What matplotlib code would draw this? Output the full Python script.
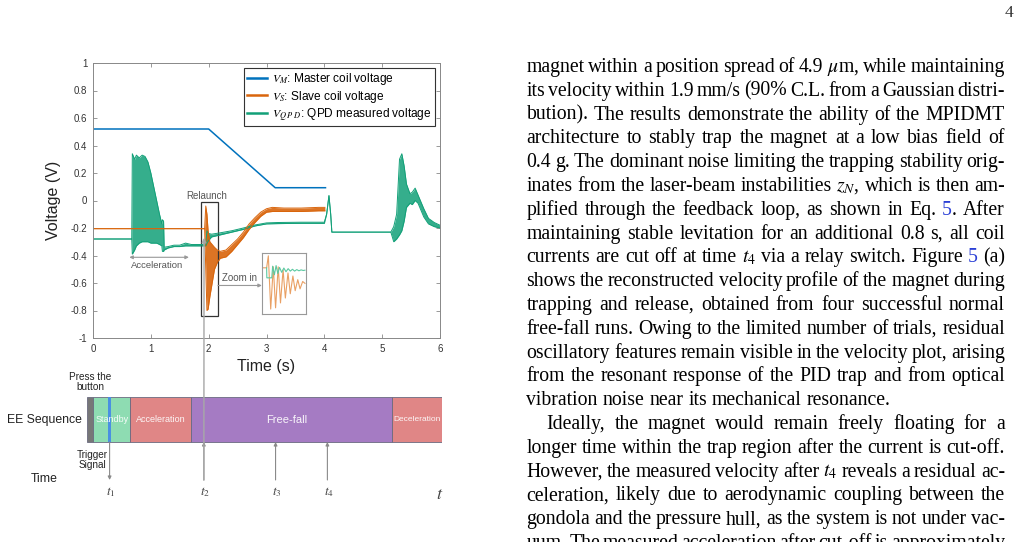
import re
import matplotlib
matplotlib.use("Agg")
import matplotlib.pyplot as plt
from matplotlib.patches import Rectangle, ConnectionPatch

plt.rcParams["font.family"] = ["Liberation Sans", "DejaVu Sans"]
plt.rcParams["mathtext.fontset"] = "stix"

W, H = 1025, 542

# ---- coil / QPD voltages (time in s, volts) ----
vm_t = [0.0, 2.0, 3.15, 4.02]
vm_v = [0.52, 0.52, 0.093, 0.093]

# noisy traces are kept as lower / upper envelope of the trace
vs_t = [0.0, 1.93, 1.95, 1.97, 1.99, 2.02, 2.06, 2.10, 2.15, 2.20, 2.30, 2.40,
        2.50, 2.60, 2.70, 2.80, 2.90, 3.00, 3.10, 3.30, 3.60, 3.90, 4.01]
vs_lo = [-0.205, -0.205, -0.50, -0.80, -0.79, -0.70, -0.60, -0.50, -0.45, -0.42, -0.41, -0.37,
         -0.32, -0.27, -0.21, -0.16, -0.115, -0.085, -0.08, -0.08, -0.08, -0.075, -0.075]
vs_hi = [-0.205, -0.205, -0.04, -0.10, -0.22, -0.30, -0.32, -0.34, -0.36, -0.37, -0.36, -0.32,
         -0.28, -0.23, -0.17, -0.125, -0.085, -0.06, -0.05, -0.055, -0.055, -0.05, -0.05]

qpd_t = [0.0, 0.67, 0.68, 0.72, 0.75, 0.80, 0.85, 0.90, 0.95, 1.00, 1.05, 1.10, 1.15, 1.19,
         1.20, 1.22, 1.23, 1.30, 1.40, 1.50, 1.60, 1.70, 1.80, 1.90, 1.95, 1.97, 2.00, 2.05,
         2.20, 2.40, 2.60, 2.80, 3.00, 3.20, 3.60, 4.00, 4.04, 4.08, 4.11, 4.13, 5.15, 5.20,
         5.25, 5.30, 5.34, 5.38, 5.42, 5.48, 5.52, 5.57, 5.62, 5.66, 5.72, 5.80, 5.90, 6.00]
qpd_lo = [-0.28, -0.28, -0.39, -0.36, -0.33, -0.31, -0.30, -0.30, -0.30, -0.31, -0.31, -0.31, -0.32, -0.33,
          -0.37, -0.37, -0.36, -0.345, -0.335, -0.335, -0.33, -0.33, -0.33, -0.33, -0.33, -0.31, -0.29, -0.265,
          -0.25, -0.23, -0.21, -0.185, -0.17, -0.168, -0.166, -0.166, -0.10, 0.035, -0.10, -0.23, -0.23, -0.30,
          -0.28, -0.25, -0.22, -0.15, -0.05, -0.02, -0.03, 0.0, -0.02, -0.06, -0.12, -0.17, -0.19, -0.20]
qpd_hi = [-0.28, -0.28, 0.34, 0.30, 0.33, 0.31, 0.33, 0.32, 0.28, 0.20, 0.10, 0.0, -0.10, -0.17,
          -0.14, -0.15, -0.34, -0.335, -0.325, -0.325, -0.31, -0.32, -0.32, -0.32, -0.31, -0.22, -0.24, -0.245,
          -0.235, -0.22, -0.20, -0.178, -0.163, -0.16, -0.158, -0.158, -0.10, 0.035, -0.10, -0.23, -0.23, -0.19,
          -0.10, 0.30, 0.34, 0.25, 0.12, 0.05, 0.06, 0.09, 0.04, 0.0, -0.06, -0.13, -0.16, -0.18]

# zoom-in inset (normalised box units)
zoom_s_t = [0.0, 0.11, 0.15, 0.205, 0.265, 0.318, 0.379, 0.432, 0.492, 0.545, 0.606,
            0.659, 0.720, 0.773, 0.833, 0.886, 0.947, 1.0]
zoom_s_v = [0.754, 0.754, 0.95, 0.08, 0.77, 0.10, 0.77, 0.18, 0.72, 0.26, 0.67,
            0.33, 0.62, 0.38, 0.56, 0.41, 0.53, 0.50]
zoom_q_t = [0.11, 0.115, 0.23, 0.25, 0.29, 0.33, 0.37, 0.41, 0.46, 0.51, 0.56, 0.61,
            0.66, 0.71, 0.76, 0.81, 0.86, 0.91, 0.96, 1.0]
zoom_q_v = [0.754, 0.59, 0.59, 0.78, 0.64, 0.79, 0.66, 0.76, 0.68, 0.75, 0.69, 0.74,
            0.70, 0.73, 0.70, 0.725, 0.705, 0.72, 0.71, 0.715]

x_ticks = [0, 1, 2, 3, 4, 5, 6]
y_ticks = [-1, -0.8, -0.6, -0.4, -0.2, 0, 0.2, 0.4, 0.6, 0.8, 1]
y_tick_labels = ["-1", "-0.8", "-0.6", "-0.4", "-0.2", "0", "0.2", "0.4", "0.6", "0.8", "1"]
legend_labels = ["$V_M$: Master coil voltage", "$V_S$: Slave coil voltage",
                 "$V_{Q\\;P\\;D}$: QPD measured voltage"]
relaunch_t = 1.92

# ---- EE sequence bar (schematic units 0..100 along the bar) ----
seq_names = ["", "Standby", "Acceleration", "Free-fall", "Deceleration"]
seq_edges = [0, 1.9, 12.2, 29.4, 85.9, 100]
trigger_at = 6.45
marker_names = ["$t_1$", "$t_2$", "$t_3$", "$t_4$"]
marker_at = [6.45, 33.0, 53.2, 67.8]

# ---- body text on the right ----
body_lines = [
    "magnet within a position spread of 4.9\u2009$\\mu$m, while maintaining",
    "its velocity within 1.9\u2009mm/s (90%\u2009C.L. from a Gaussian distri-",
    "bution).  The results demonstrate the ability of the MPIDMT",
    "architecture to stably trap the magnet at a low bias field of",
    "0.4\u2009g. The dominant noise limiting the trapping stability orig-",
    "inates from the laser-beam instabilities $z_N$, which is then am-",
    "plified through the feedback loop, as shown in Eq.\u2009[5].  After",
    "maintaining stable levitation for an additional 0.8\u2009s, all coil",
    "currents are cut off at time $t_4$ via a relay switch.  Figure\u2009[5]\u2009(a)",
    "shows the reconstructed velocity profile of the magnet during",
    "trapping and release, obtained from four successful normal",
    "free-fall runs. Owing to the limited number of trials, residual",
    "oscillatory features remain visible in the velocity plot, arising",
    "from the resonant response of the PID trap and from optical",
    "vibration noise near its mechanical resonance.",
    "Ideally, the magnet would remain freely floating for a",
    "longer time within the trap region after the current is cut-off.",
    "However, the measured velocity after $t_4$ reveals a residual ac-",
    "celeration, likely due to aerodynamic coupling between the",
    "gondola and the pressure hull, as the system is not under vac-",
    "uum.  The measured acceleration after cut-off is approximately",
]
ragged_lines = [14]
indented_lines = [15]

blue, orange, green = "#0072BD", "#D9650C", "#12A078"
seq_colors = ["#777777", "#8EDCB2", "#E08686", "#A57BC3", "#E08686"]
seq_sizes = [6, 6.5, 6.5, 8, 6]
link_blue = "#2A3FD6"
gray = "#999999"

fig = plt.figure(figsize=(W / 100, H / 100), dpi=100)

# ================= main voltage panel =================
ax = fig.add_axes([93 / W, 1 - 338 / H, 347 / W, 275 / H])
l1, = ax.plot(vm_t, vm_v, color=blue, lw=1.1)
ax.fill_between(qpd_t, qpd_lo, qpd_hi, color=green, lw=0, alpha=0.85)
l3, = ax.plot(qpd_t, qpd_lo, color=green, lw=0.7)
ax.plot(qpd_t, qpd_hi, color=green, lw=0.7)
ax.fill_between(vs_t, vs_lo, vs_hi, color=orange, lw=0, alpha=0.9)
l2, = ax.plot(vs_t, vs_lo, color=orange, lw=0.7)
ax.plot(vs_t, vs_hi, color=orange, lw=0.7)

ax.set_xlim(0, 6)
ax.set_ylim(-1, 1)
ax.set_xticks(x_ticks)
ax.set_xticklabels([str(v) for v in x_ticks])
ax.set_yticks(y_ticks)
ax.set_yticklabels(y_tick_labels)
ax.tick_params(direction="in", length=3, width=0.6, top=True, right=True,
               color="#888888", labelcolor="#333333", labelsize=7, pad=4)
for sp in ax.spines.values():
    sp.set_color("#888888")
    sp.set_linewidth(0.7)
ax.set_xlabel("Time (s)", fontsize=11.5, color="#222222", labelpad=4)
ax.set_ylabel("Voltage (V)", fontsize=11.5, color="#222222", labelpad=7)

leg = ax.legend([l1, l2, l3], legend_labels, loc="upper right",
                bbox_to_anchor=(0.986, 0.981), borderaxespad=0, fontsize=8.6,
                handlelength=1.7, handletextpad=0.45, labelspacing=0.12,
                borderpad=0.25, fancybox=False, framealpha=1)
leg.get_frame().set_edgecolor("#333333")
leg.get_frame().set_linewidth(0.8)
for ln in leg.get_lines():
    ln.set_linewidth(1.8)

# annotations
ax.add_patch(Rectangle((1.865, -0.842), 0.294, 0.832, fill=False, ec="#333333", lw=0.9))
ax.text(1.97, 0.03, "Relaunch", fontsize=7, color="#555555", ha="center", va="center")
ax.annotate("", xy=(0.628, -0.413), xytext=(1.658, -0.413),
            arrowprops=dict(arrowstyle="<|-|>", color=gray, lw=0.8, mutation_scale=5,
                            shrinkA=0, shrinkB=0))
ax.text(1.10, -0.474, "Acceleration", fontsize=6.8, color="#555555", ha="center", va="center")
ax.annotate("", xy=(2.92, -0.618), xytext=(2.16, -0.618),
            arrowprops=dict(arrowstyle="-|>", color=gray, lw=0.8, mutation_scale=5,
                            shrinkA=0, shrinkB=0))
ax.text(2.53, -0.561, "Zoom in", fontsize=7, color="#555555", ha="center", va="center")

axin = ax.inset_axes([2.92, -0.825, 0.76, 0.445], transform=ax.transData)
axin.plot(zoom_s_t, zoom_s_v, color="#E9A064", lw=0.8)
axin.plot(zoom_q_t, zoom_q_v, color="#5CC9A2", lw=0.8)
axin.set_xlim(0, 1.02)
axin.set_ylim(0, 1)
axin.set_xticks([])
axin.set_yticks([])
for sp in axin.spines.values():
    sp.set_color(gray)
    sp.set_linewidth(0.8)

# ================= EE sequence diagram =================
axs = fig.add_axes([86.7 / W, 1 - 510 / H, 355 / W, 140 / H])
axs.set_xlim(0, 100)
axs.set_ylim(-1.511, 1.6)
axs.axis("off")
timeline_y = -0.844

for i, name in enumerate(seq_names):
    x0, x1 = seq_edges[i], seq_edges[i + 1]
    axs.add_patch(Rectangle((x0, 0), x1 - x0, 1, fc=seq_colors[i], ec="#6A6A80", lw=0.6))
axs.add_patch(Rectangle((trigger_at - 0.4, 0), 0.8, 1, fc="#4A90E2", ec="none"))
for i, name in enumerate(seq_names):
    if not name:
        continue
    xc = (seq_edges[i] + seq_edges[i + 1]) / 2
    if name == "Free-fall":
        xc -= 1.2
    axs.text(xc, 0.5, name, fontsize=seq_sizes[i], color="white", alpha=0.92,
             ha="center", va="center")

axs.text(-1.3, 0.5, "EE Sequence", fontsize=8.8, color="#222222", ha="right", va="center")
axs.text(0.93, 1.33, "Press the\nbutton", fontsize=7.2, color="#222222", ha="center",
         va="center", linespacing=1.0)
axs.text(1.5, -0.4, "Trigger\nSignal", fontsize=7.2, color="#222222", ha="center",
         va="center", linespacing=1.0)
axs.text(-8.2, timeline_y + 0.02, "Time", fontsize=8.8, color="#222222", ha="right", va="center")

axs.annotate("", xy=(101.6, timeline_y), xytext=(-4.7, timeline_y),
             arrowprops=dict(arrowstyle="-|>", color="#444444", lw=1.0, mutation_scale=6,
                             shrinkA=0, shrinkB=0))
for i, (name, xm) in enumerate(zip(marker_names, marker_at)):
    if i == 0:
        start, end = (xm, 0), (xm, timeline_y)
    else:
        start, end = (xm, timeline_y), (xm, 0)
    axs.annotate("", xy=end, xytext=start,
                 arrowprops=dict(arrowstyle="-|>", color="#8A8A8A", lw=0.8, mutation_scale=5,
                                 shrinkA=0, shrinkB=0))
    axs.text(xm + 0.4, -1.11, name, fontsize=9.5, color="#444444", ha="center", va="center")
axs.text(99.5, -1.17, "$t$", fontsize=13, color="#444444", ha="center", va="center")

# long relaunch marker from the timeline up into the voltage panel
con = ConnectionPatch(xyA=(marker_at[1], timeline_y), coordsA=axs.transData,
                      xyB=(relaunch_t, -0.27), coordsB=ax.transData,
                      arrowstyle="-|>", mutation_scale=6, color="#A8A8A8", lw=1.2,
                      alpha=0.85, shrinkA=0, shrinkB=0)
con.set_zorder(5)
fig.add_artist(con)

# ================= page text =================
body_font = dict(family=["Liberation Serif", "DejaVu Serif"], size=14.2)
renderer = fig.canvas.get_renderer()
space_px = 0.25 * 14.2 * 100 / 72


def word_pieces(word):
    out = []
    for part in re.split(r"(\[[^\]]*\])", word):
        if not part:
            continue
        if part.startswith("["):
            out.append((part[1:-1], link_blue))
        else:
            out.append((part, "black"))
    return out


def set_line(line, x0, x1, y, justify):
    items = []
    for w in line.split():
        arts, width = [], 0.0
        for s, c in word_pieces(w):
            t = fig.text(0, 0, s, color=c, ha="left", va="baseline", **body_font)
            arts.append((t, width))
            width += t.get_window_extent(renderer).width
        items.append((arts, width))
    total = sum(w for _, w in items)
    gap = (x1 - x0 - total) / (len(items) - 1) if justify else space_px
    x = x0
    for arts, width in items:
        for t, off in arts:
            t.set_position(((x + off) / W, 1 - y / H))
        x += width + gap


for i, line in enumerate(body_lines):
    x0 = 546.5 if i in indented_lines else 526.5
    set_line(line, x0, 1005, 72 + 23.8 * i, i not in ragged_lines)

fig.text(1009 / W, 1 - 13 / H, "4", fontsize=12.5, color="#333333", ha="center", va="center",
         family=["Liberation Serif", "DejaVu Serif"])

fig.savefig("out.png", dpi=100)
